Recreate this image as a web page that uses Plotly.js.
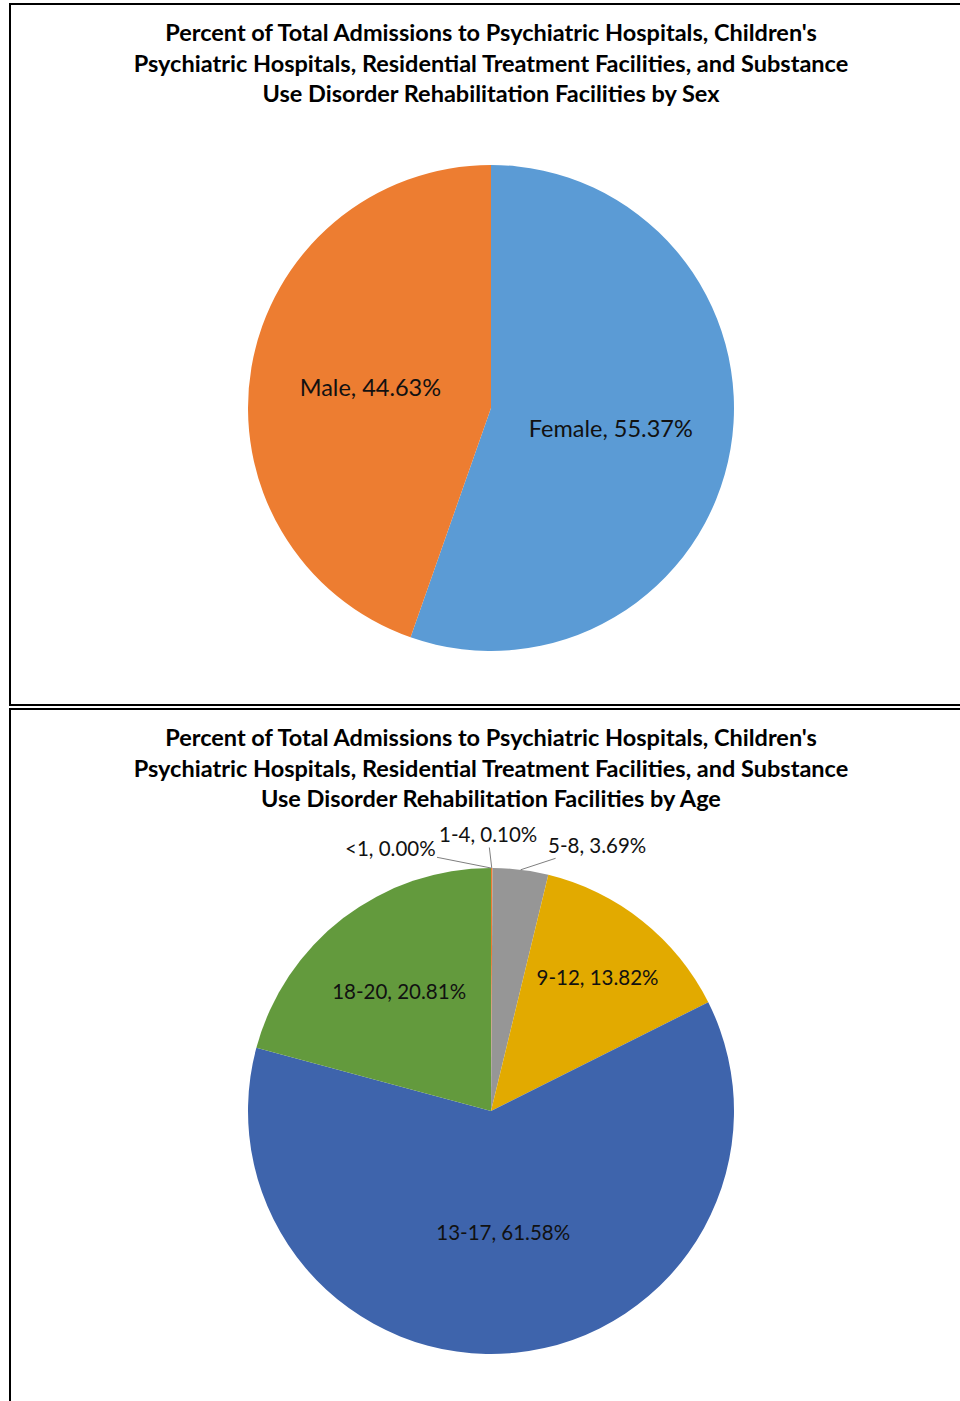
<!DOCTYPE html>
<html>
<head>
<meta charset="utf-8">
<script src="https://cdn.plot.ly/plotly-3.0.1.min.js"></script>
<style>
  html, body { margin: 0; padding: 0; background: #fff; width: 960px; height: 1401px; overflow: hidden; }
  .plot { position: absolute; left: 0; width: 960px; }
  .box { position: absolute; left: 9px; width: 1000px; border: 2px solid #000; box-sizing: border-box; pointer-events: none; }
</style>
</head>
<body>
<div id="sexPlot" class="plot" style="top:0px;height:705px;"></div>
<div id="agePlot" class="plot" style="top:705px;height:696px;"></div>
<div class="box" style="top:3px;height:703px;"></div>
<div class="box" style="top:708px;height:800px;"></div>
<script>
// ---- Data ----
const sexTitle = "Percent of Total Admissions to Psychiatric Hospitals, Children's<br>Psychiatric Hospitals, Residential Treatment Facilities, and Substance<br>Use Disorder Rehabilitation Facilities by Sex";
const sexLabels = ["Female", "Male"];
const sexValues = [55.37, 44.63];
const sexColors = ["#5B9BD5", "#ED7D31"];

const ageTitle = "Percent of Total Admissions to Psychiatric Hospitals, Children's<br>Psychiatric Hospitals, Residential Treatment Facilities, and Substance<br>Use Disorder Rehabilitation Facilities by Age";
const ageLabels = ["<1", "1-4", "5-8", "9-12", "13-17", "18-20"];
const ageValues = [0.00, 0.10, 3.69, 13.82, 61.58, 20.81];
const ageColors = ["#4A7EBB", "#ED7D31", "#969696", "#E2AA00", "#3E64AC", "#639A3D"];
// small slices get callout labels (text offset in px from the slice edge)
const ageTextPos = ["none", "none", "none", "inside", "inside", "inside"];
const ageCallouts = { 0: [-101, -20], 1: [-4, -34], 2: [76, -25] };

const titleFont = { family: "Lato, 'Open Sans', sans-serif", size: 23.5, color: "#000", weight: "bold" };
const labelFamily = "Lato, sans-serif";

function titleObj(text, h) {
  return {
    text: text,
    font: titleFont,
    x: 491 / 960, xref: "container", xanchor: "center",
    y: 1 - 41 / h, yref: "container", yanchor: "middle"
  };
}

// ---- Sex pie ----
const h1 = 705;
Plotly.newPlot("sexPlot", [{
  type: "pie",
  labels: sexLabels,
  values: sexValues,
  sort: false,
  direction: "clockwise",
  rotation: 0,
  marker: { colors: sexColors, line: { color: "#fff", width: 0 } },
  texttemplate: "%{label}, %{percent:.2%}",
  textposition: "inside",
  insidetextorientation: "horizontal",
  textfont: { family: labelFamily, size: 23.5, color: "#111" },
  hoverinfo: "label+percent",
  domain: { x: [248 / 960, 734 / 960], y: [(h1 - 651) / h1, (h1 - 165) / h1] }
}], {
  width: 960, height: h1,
  margin: { l: 0, r: 0, t: 0, b: 0 },
  paper_bgcolor: "#fff",
  showlegend: false,
  title: titleObj(sexTitle, h1)
}, { staticPlot: true });

// ---- Age pie ----
const h2 = 696;
const ageDomX = [248 / 960, 734 / 960];
const ageDomY = [(h2 - 649) / h2, (h2 - 163) / h2];

// callout annotations anchored at the slice's mid-angle on the pie edge
const ageTotal = ageValues.reduce((a, b) => a + b, 0);
const ageAnnotations = [];
let cum = 0;
ageValues.forEach((v, i) => {
  const mid = (cum + v / 2) / ageTotal * 2 * Math.PI;  // clockwise from 12 o'clock
  cum += v;
  if (!(i in ageCallouts)) return;
  const cx = (ageDomX[0] + ageDomX[1]) / 2, cy = (ageDomY[0] + ageDomY[1]) / 2;
  const rx = (ageDomX[1] - ageDomX[0]) / 2, ry = (ageDomY[1] - ageDomY[0]) / 2;
  const pct = (v / ageTotal * 100).toFixed(2) + "%";
  ageAnnotations.push({
    xref: "paper", yref: "paper",
    x: cx + rx * Math.sin(mid),
    y: cy + ry * Math.cos(mid),
    text: ageLabels[i].replace("<", "&lt;") + ", " + pct,
    showarrow: true, arrowhead: 0, arrowwidth: 1, arrowcolor: "#7f7f7f",
    ax: ageCallouts[i][0], ay: ageCallouts[i][1],
    font: { family: labelFamily, size: 20.5, color: "#111" }
  });
});

Plotly.newPlot("agePlot", [{
  type: "pie",
  labels: ageLabels,
  values: ageValues,
  sort: false,
  direction: "clockwise",
  rotation: 0,
  marker: { colors: ageColors, line: { color: "#fff", width: 0 } },
  texttemplate: "%{label}, %{percent:.2%}",
  textposition: ageTextPos,
  insidetextorientation: "horizontal",
  textfont: { family: labelFamily, size: 20.5, color: "#111" },
  hoverinfo: "label+percent",
  domain: { x: ageDomX, y: ageDomY }
}], {
  width: 960, height: h2,
  margin: { l: 0, r: 0, t: 0, b: 0 },
  paper_bgcolor: "#fff",
  showlegend: false,
  title: titleObj(ageTitle, h2),
  annotations: ageAnnotations
}, { staticPlot: true });
</script>
</body>
</html>
